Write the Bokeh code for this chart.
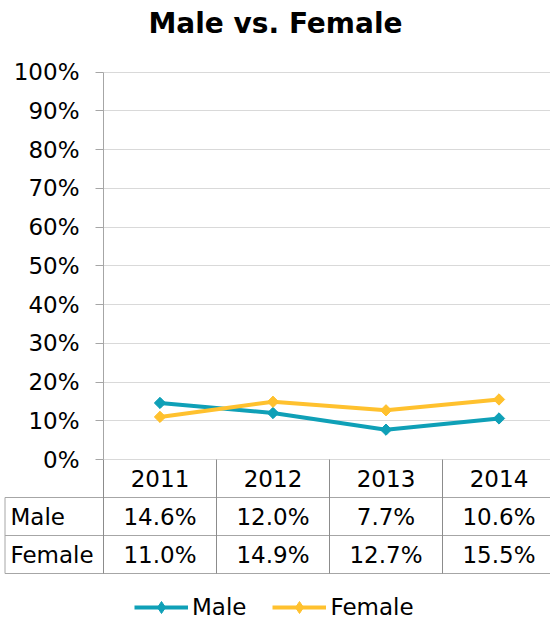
import math
from bokeh.plotting import figure
from bokeh.models import (Range1d, FixedTicker, PrintfTickFormatter, ColumnDataSource,
                          Legend, LegendItem)
from bokeh.core.properties import value
from bokeh.embed import file_html
from bokeh.resources import INLINE

# ---- data ----
years = ["2011", "2012", "2013", "2014"]
male = [14.6, 12.0, 7.7, 10.6]
female = [11.0, 14.9, 12.7, 15.5]
series_names = ["Male", "Female"]
y_ticks = [0, 10, 20, 30, 40, 50, 60, 70, 80, 90, 100]
title_text = "Male vs. Female"

# ---- style / layout ----
MALE_C = "#0fa0b7"
FEMALE_C = "#ffc12e"
FONT = "DejaVu Sans"
FS = "23px"
GRID_C = "#d9d9d9"
AXIS_C = "#a6a6a6"
TABLE_H_C = "#a6a6a6"
TABLE_V_C = "#8c8c8c"

W, H = 550, 622
TOP = 42             # frame top (px)
TOP_LINE_PX = 71.7   # position of the 100% line (px)
AXIS_PX = 103        # y-axis position from left (px)
COL_PX = 113         # category width (px)
PX_PER_UNIT = 3.873  # px per percentage point
ROW_H = 38 / PX_PER_UNIT  # table row height in data units

n = len(years)
n_rows = len(series_names)
xs = [i + 0.5 for i in range(n)]
x_start = -AXIS_PX / COL_PX
x_end = (W - AXIS_PX) / COL_PX
y_end = 100 + (TOP_LINE_PX - TOP) / PX_PER_UNIT
y_start = y_end - (H - TOP) / PX_PER_UNIT

p = figure(width=W, height=H, x_range=Range1d(x_start, x_end), y_range=Range1d(y_start, y_end),
           output_backend="svg", toolbar_location=None, x_axis_location=None,
           min_border_left=0, min_border_right=0, min_border_top=TOP, min_border_bottom=0,
           title=title_text)
p.outline_line_color = None
p.title.text_font = FONT
p.title.text_font_size = "28px"
p.title.text_font_style = "bold"
p.title.align = "center"
p.title.text_color = "#000000"
p.title.standoff = 4.4
p.title.offset = -4

yax = p.yaxis[0]
yax.fixed_location = 0
yax.bounds = (0, 100)
yax.ticker = FixedTicker(ticks=y_ticks)
yax.formatter = PrintfTickFormatter(format="%d%%")
yax.axis_line_color = AXIS_C
yax.major_tick_line_color = AXIS_C
yax.major_tick_out = 8
yax.major_tick_in = 0
yax.minor_tick_line_color = None
yax.major_label_text_font = FONT
yax.major_label_text_font_size = FS
yax.major_label_text_color = "#000000"
yax.major_label_standoff = 16

p.xgrid.visible = False
g = p.ygrid[0]
g.ticker = FixedTicker(ticks=y_ticks)
g.grid_line_color = GRID_C
if "cross_bounds" in g.properties():
    g.cross_bounds = (0, n)
else:
    g.visible = False
    p.segment(x0=[0] * len(y_ticks), y0=y_ticks, x1=[n] * len(y_ticks), y1=y_ticks,
              line_color=GRID_C, line_width=1)

# ---- data table under the chart ----
left_edge = x_start + 4.5 / COL_PX
hy = [-(r + 1) * ROW_H for r in range(n_rows + 1)]
p.segment(x0=[left_edge] * len(hy), y0=hy, x1=[n] * len(hy), y1=hy,
          line_color=TABLE_H_C, line_width=1)
vx = list(range(n + 1))
p.segment(x0=vx, y0=[0] * len(vx), x1=vx, y1=[hy[-1]] * len(vx),
          line_color=TABLE_V_C, line_width=1)
p.segment(x0=[left_edge], y0=[hy[0]], x1=[left_edge], y1=[hy[-1]],
          line_color=TABLE_H_C, line_width=1)

p.text(x=xs, y=[-0.5 * ROW_H] * n, text=years, text_font=value(FONT), text_font_size=FS,
       text_align="center", text_baseline="middle", text_color="#000000")
for r, vals in enumerate([male, female]):
    p.text(x=xs, y=[-(r + 1.5) * ROW_H] * n, text=[f"{v:.1f}%" for v in vals],
           text_font=value(FONT), text_font_size=FS, text_align="center",
           text_baseline="middle", text_color="#000000")
p.text(x=[x_start + 10 / COL_PX] * n_rows, y=[-(r + 1.5) * ROW_H for r in range(n_rows)],
       text=series_names, text_font=value(FONT), text_font_size=FS, text_align="left",
       text_baseline="middle", text_color="#000000")

# ---- series ----
src = ColumnDataSource(dict(x=xs, male=male, female=female))
items = []
for name, col, c in [("Male", "male", MALE_C), ("Female", "female", FEMALE_C)]:
    lr = p.line("x", col, source=src, line_color=c, line_width=4, line_join="round")
    dr = p.scatter("x", col, source=src, marker="diamond", size=10,
                   fill_color=c, line_color=c)
    sr = p.scatter("x", col, source=src, marker="square", angle=math.pi / 4, size=8,
                   fill_color=c, line_color=c)
    items.append(LegendItem(label=name, renderers=[lr, dr]))

leg = Legend(items=items, orientation="horizontal", location=(134, 0),
             label_text_font=FONT, label_text_font_size=FS, label_text_color="#000000",
             glyph_width=54, glyph_height=30, label_height=30, label_standoff=4,
             spacing=26, padding=0, margin=0, border_line_color=None,
             background_fill_alpha=0)
p.add_layout(leg)

open("out.html", "w").write(file_html(p, INLINE))
